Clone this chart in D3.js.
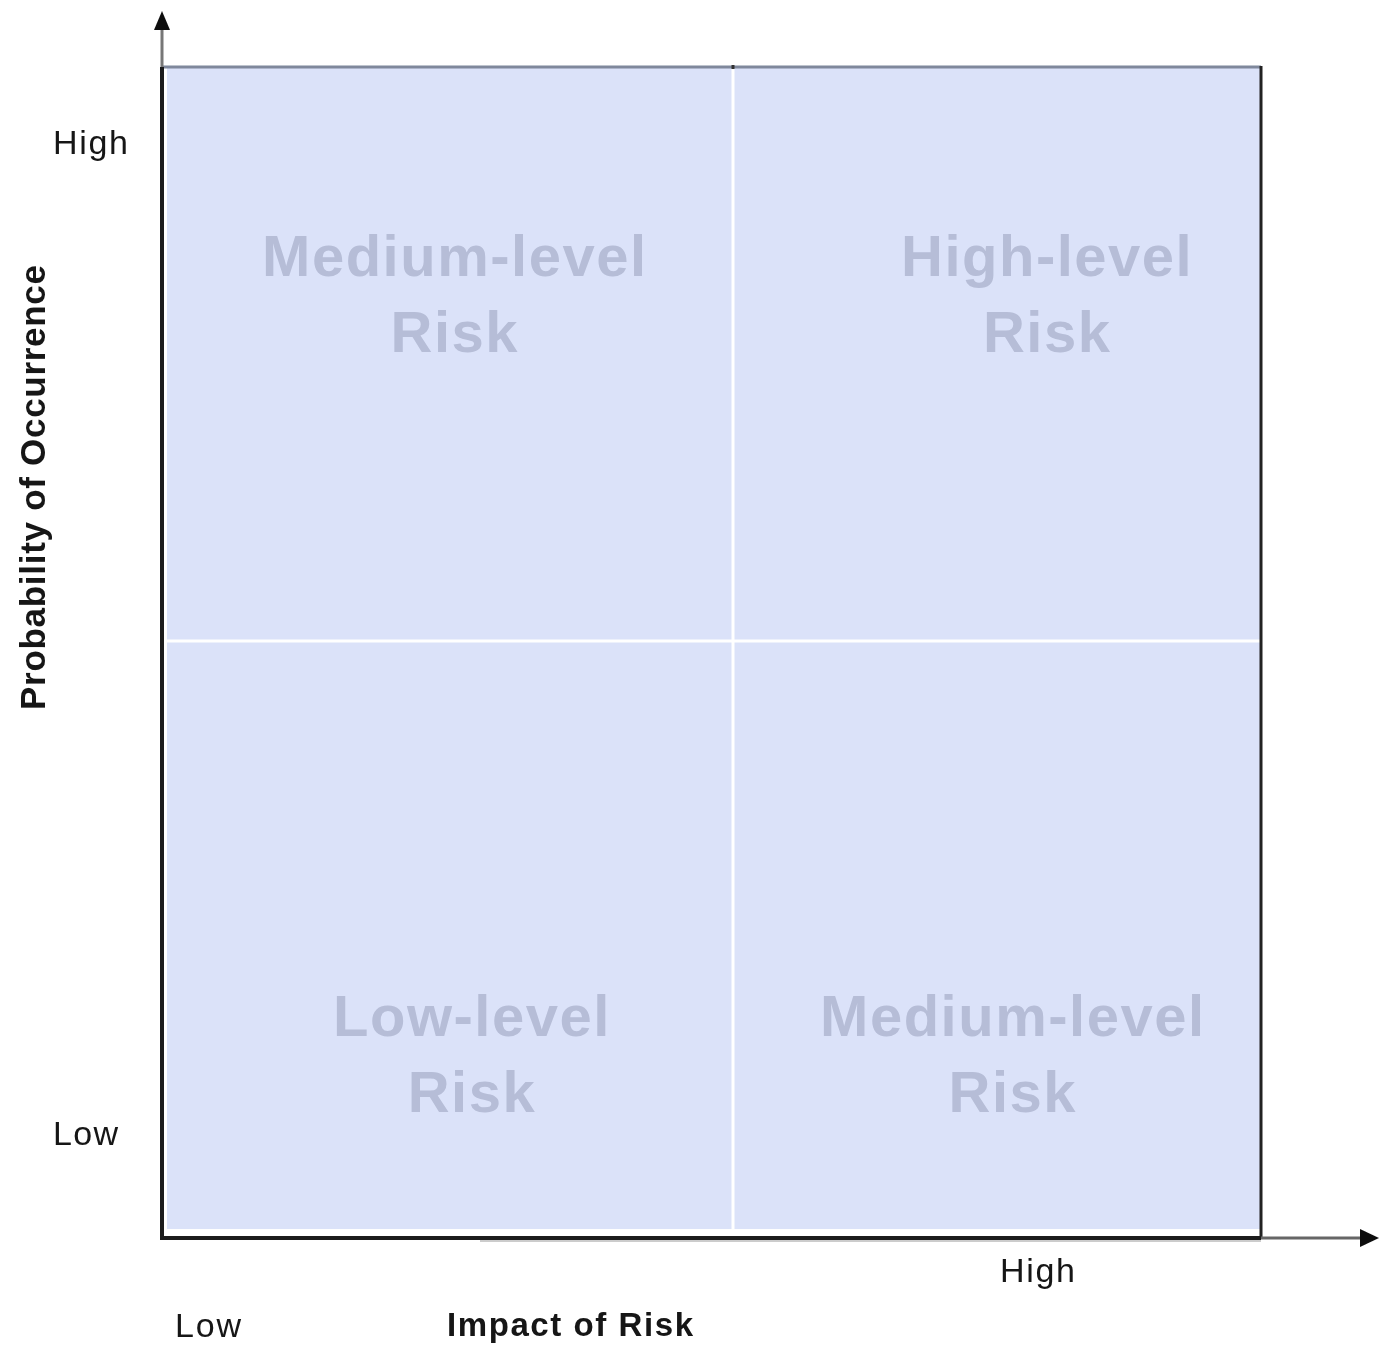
<!DOCTYPE html>
<html>
<head>
<meta charset="utf-8">
<script src="https://cdn.jsdelivr.net/npm/d3@7"></script>
<style>
  html, body { margin: 0; padding: 0; background: #fff; }
  svg { display: block; }
</style>
</head>
<body>
<svg id="chart" width="1383" height="1347"></svg>
<script>
// Risk matrix: impact (x) vs probability (y), each split into Low / High.
const impactLevels = ["Low", "High"];
const probabilityLevels = ["Low", "High"];

// Quadrant cells: column index, row index, risk label lines and label anchor (in axis units, 0..2)
const cellCol = [0, 1, 0, 1];
const cellRow = [1, 1, 0, 0];
const cellLabel = [
  ["Medium-level", "Risk"],
  ["High-level", "Risk"],
  ["Low-level", "Risk"],
  ["Medium-level", "Risk"]
];
const labelX = [0.512, 1.595, 0.542, 1.530];
const labelY = [1.636, 1.636, 0.337, 0.337];

// Level labels along the probability axis (axis units)
const yTickLabels = ["Low", "High"];
const yTickValues = [0.172, 1.868];

const xTitle = "Impact of Risk";
const yTitle = "Probability of Occurrence";

const svg = d3.select("#chart");
const font = "'Liberation Sans', Arial, Helvetica, sans-serif";

// piecewise scales: the Low half and the High half are not the same size
const x = d3.scaleLinear().domain([0, 1, 2]).range([163, 733, 1261]);
const y = d3.scaleLinear().domain([0, 1, 2]).range([1237, 641, 67]);

const defs = svg.append("defs");
defs.append("filter").attr("id", "soft")
  .append("feGaussianBlur").attr("stdDeviation", 0.6);

const fill = "#dbe2f9";

// quadrant backgrounds
svg.append("g").selectAll("rect")
  .data(cellCol.map((c, i) => ({ c, r: cellRow[i] })))
  .join("rect")
  .attr("x", d => x(d.c))
  .attr("y", d => y(d.r + 1))
  .attr("width", d => x(d.c + 1) - x(d.c))
  .attr("height", d => y(d.r) - y(d.r + 1))
  .attr("fill", fill);

// white strips along the bottom and left edges inside the frame
svg.append("rect")
  .attr("x", x(0)).attr("y", y(0) - 8)
  .attr("width", x(2) - x(0)).attr("height", 8)
  .attr("fill", "#ffffff");
svg.append("rect")
  .attr("x", x(0)).attr("y", y(2))
  .attr("width", 4).attr("height", y(0) - y(2))
  .attr("fill", "#ffffff");

// white dividers between quadrants
const div = svg.append("g").attr("filter", "url(#soft)");
div.append("line")
  .attr("x1", x(1)).attr("x2", x(1))
  .attr("y1", y(2)).attr("y2", y(0) - 8)
  .attr("stroke", "#ffffff").attr("stroke-width", 3);
div.append("line")
  .attr("x1", x(0)).attr("x2", x(2))
  .attr("y1", y(1)).attr("y2", y(1))
  .attr("stroke", "#ffffff").attr("stroke-width", 3);

// quadrant risk labels
const lbl = svg.append("g").attr("filter", "url(#soft)");
cellLabel.forEach((lines, i) => {
  const t = lbl.append("text")
    .attr("x", x(labelX[i]))
    .attr("y", y(labelY[i]))
    .attr("text-anchor", "middle")
    .attr("font-family", font)
    .attr("font-weight", "bold")
    .attr("font-size", 58)
    .attr("letter-spacing", 1.5)
    .attr("fill", "#b6bdd7");
  lines.forEach((s, k) => {
    t.append("tspan")
      .attr("x", x(labelX[i]))
      .attr("dy", k === 0 ? 0 : 76)
      .text(s);
  });
});

// frame
const frame = svg.append("g").attr("filter", "url(#soft)");
frame.append("line")
  .attr("x1", x(0)).attr("x2", x(2))
  .attr("y1", y(2)).attr("y2", y(2))
  .attr("stroke", "#7f889c").attr("stroke-width", 3);
frame.append("line")
  .attr("x1", x(1)).attr("x2", x(1))
  .attr("y1", y(2) - 2).attr("y2", y(2) + 2)
  .attr("stroke", "#333").attr("stroke-width", 3);
frame.append("line")
  .attr("x1", x(2)).attr("x2", x(2))
  .attr("y1", y(2) - 1).attr("y2", y(0))
  .attr("stroke", "#222").attr("stroke-width", 3);

// axes with arrowheads
const axes = svg.append("g").attr("filter", "url(#soft)");
// vertical axis
axes.append("line")
  .attr("x1", x(0) - 1).attr("x2", x(0) - 1)
  .attr("y1", 26).attr("y2", y(2))
  .attr("stroke", "#777").attr("stroke-width", 3);
axes.append("line")
  .attr("x1", x(0) - 1).attr("x2", x(0) - 1)
  .attr("y1", y(2)).attr("y2", y(0) + 1)
  .attr("stroke", "#1a1a1a").attr("stroke-width", 4);
axes.append("path")
  .attr("d", `M${x(0) - 1},11 L${x(0) - 9},30 L${x(0) + 7},30 Z`)
  .attr("fill", "#111");
// horizontal axis
axes.append("line")
  .attr("x1", x(0) - 3).attr("x2", x(2))
  .attr("y1", y(0) + 1).attr("y2", y(0) + 1)
  .attr("stroke", "#1a1a1a").attr("stroke-width", 4);
axes.append("line")
  .attr("x1", 480).attr("x2", x(2))
  .attr("y1", y(0) + 4).attr("y2", y(0) + 4)
  .attr("stroke", "#bbb").attr("stroke-width", 1.5);
axes.append("line")
  .attr("x1", x(2)).attr("x2", 1362)
  .attr("y1", y(0) + 1).attr("y2", y(0) + 1)
  .attr("stroke", "#666").attr("stroke-width", 3);
axes.append("path")
  .attr("d", `M1379,${y(0) + 1} L1360,${y(0) - 8} L1360,${y(0) + 10} Z`)
  .attr("fill", "#111");

// axis level labels and titles
const txt = svg.append("g").attr("filter", "url(#soft)")
  .attr("font-family", font).attr("fill", "#141414");

txt.selectAll("text.ytick")
  .data(yTickLabels)
  .join("text")
  .attr("class", "ytick")
  .attr("x", 53)
  .attr("y", (d, i) => y(yTickValues[i]) + 11)
  .attr("font-size", 34)
  .attr("textLength", (d, i) => i === 0 ? 65 : 75)
  .text(d => d);

txt.append("text")
  .attr("x", 175).attr("y", 1337)
  .attr("font-size", 34)
  .attr("textLength", 66)
  .text(impactLevels[0]);
txt.append("text")
  .attr("x", 1000).attr("y", 1282)
  .attr("font-size", 34)
  .attr("textLength", 75)
  .text(impactLevels[1]);

txt.append("text")
  .attr("x", 447).attr("y", 1336)
  .attr("font-size", 33)
  .attr("font-weight", "bold")
  .attr("textLength", 246)
  .text(xTitle);

txt.append("text")
  .attr("transform", "translate(45,710) rotate(-90)")
  .attr("font-size", 35)
  .attr("font-weight", "bold")
  .attr("textLength", 445)
  .text(yTitle);
</script>
</body>
</html>
